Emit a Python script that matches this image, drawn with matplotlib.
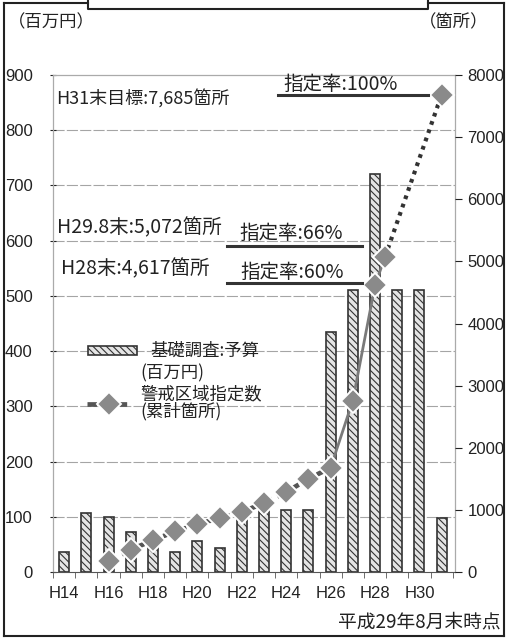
import matplotlib
matplotlib.use("Agg")
import matplotlib.pyplot as plt
from matplotlib.patches import Rectangle
from matplotlib.lines import Line2D

plt.rcParams['font.family'] = ['Noto Sans CJK JP', 'DejaVu Sans']
plt.rcParams['hatch.linewidth'] = 0.8

# ---- data ----
years = ["H14", "H15", "H16", "H17", "H18", "H19", "H20", "H21", "H22",
         "H23", "H24", "H25", "H26", "H27", "H28", "H29", "H30", "H31"]
budget = [37, 107, 100, 72, 45, 36, 57, 43, 105, 112, 113, 112, 434, 510, 720, 510, 510, 98]
tick_labels = ["H14", "H16", "H18", "H20", "H22", "H24", "H26", "H28", "H30"]

cum_x = [2, 3, 4, 5, 6, 7, 8, 9, 10, 11, 12, 13, 14, 14.45, 17]
cum_sites = [170, 360, 510, 654, 767, 868, 965, 1110, 1286, 1500, 1678, 2760, 4617, 5072, 7685]

W, H = 507, 638
fig = plt.figure(figsize=(W / 100, H / 100), dpi=100)
fig.patch.set_facecolor('white')

def fx(px):
    return px / W

def fy(py):
    return 1 - py / H

ax = fig.add_axes([fx(53), fy(572), fx(455) - fx(53), fy(75) - fy(572)])
ax2 = ax.twinx()

xs = list(range(len(years)))
ax.bar(xs, budget, width=0.45, facecolor='#e4e4e4', edgecolor='#333333',
       linewidth=1.2, hatch='\\\\\\\\\\', zorder=2)
ax.set_xlim(-0.5, 17.6)
ax.set_ylim(0, 900)
ax.set_yticks(range(0, 901, 100))
ax.set_xticks([years.index(t) for t in tick_labels])
ax.set_xticklabels(tick_labels)
ax.set_xticks([i - 0.5 for i in range(len(years) + 1)], minor=True)
ax.tick_params(axis='x', which='major', length=0, pad=10, labelsize=12, colors='#222222')
ax.tick_params(axis='x', which='minor', length=4, direction='out', color='#555555')
ax.tick_params(axis='y', length=5, direction='inout', pad=12, labelsize=12, colors='#222222')
for lab in ax.get_xticklabels() + ax.get_yticklabels():
    lab.set_family(['Liberation Sans', 'DejaVu Sans'])

for v in range(100, 900, 100):
    ax.axhline(v, color='#a5a5a5', lw=0.8, ls=(0, (10, 2)), zorder=1)

for s in ['left', 'right', 'top']:
    ax.spines[s].set_color('#aaaaaa')
    ax.spines[s].set_linewidth(0.9)
ax.spines['bottom'].set_color('#555555')

ax2.set_ylim(0, 8000)
ax2.set_yticks(range(0, 8001, 1000))
ax2.tick_params(axis='y', length=5, direction='out', pad=4, labelsize=12, colors='#222222')
for lab in ax2.get_yticklabels():
    lab.set_family(['Liberation Sans', 'DejaVu Sans'])
for s in ax2.spines.values():
    s.set_visible(False)

# line segments
ax2.plot(cum_x[:11], cum_sites[:11], color='#555555', lw=3.4, ls=(0, (2, 1.2)), zorder=3)
ax2.plot(cum_x[10:14], cum_sites[10:14], color='#7a7a7a', lw=2.0, zorder=3)
ax2.plot(cum_x[13:], cum_sites[13:], color='#333333', lw=3.0, ls=(0, (0.9, 1.2)), zorder=3)
ax2.plot(cum_x, cum_sites, ls='none', marker='D', markersize=12,
         markerfacecolor='#8a8a8a', markeredgecolor='white', markeredgewidth=1.4, zorder=4)

# annotations
tc = '#222222'
fig.text(fx(8), fy(22), "（百万円）", fontsize=12.5, color=tc, va='center', ha='left')
fig.text(fx(488), fy(22), "（箇所）", fontsize=12.5, color=tc, va='center', ha='right')

fig.text(fx(56), fy(99), "H31末目標:7,685箇所", fontsize=13, color=tc, va='center', ha='left')
fig.text(fx(283), fy(84), "指定率:100%", fontsize=14, color=tc, va='center', ha='left')
fig.add_artist(Line2D([fx(278), fx(428)], [fy(95), fy(95)], color='#333333', lw=2.2))

fig.text(fx(57), fy(228), "H29.8末:5,072箇所", fontsize=14, color=tc, va='center', ha='left')
fig.text(fx(239), fy(233), "指定率:66%", fontsize=14, color=tc, va='center', ha='left')
fig.add_artist(Line2D([fx(227), fx(362)], [fy(246), fy(246)], color='#333333', lw=2.2))

fig.text(fx(61), fy(269), "H28末:4,617箇所", fontsize=14, color=tc, va='center', ha='left')
fig.text(fx(240), fy(272), "指定率:60%", fontsize=14, color=tc, va='center', ha='left')
fig.add_artist(Line2D([fx(227), fx(362)], [fy(283), fy(283)], color='#333333', lw=2.2))

# legend
fig.add_artist(Rectangle((fx(88), fy(355)), fx(137) - fx(88), fy(346) - fy(355),
                         transform=fig.transFigure, facecolor='#e4e4e4', edgecolor='#333333',
                         lw=1.2, hatch='\\\\\\\\\\'))
fig.text(fx(150), fy(351), "基礎調査:予算", fontsize=12.5, color=tc, va='center', ha='left')
fig.text(fx(140), fy(373), "(百万円)", fontsize=12.5, color=tc, va='center', ha='left')
fig.text(fx(140), fy(394), "警戒区域指定数", fontsize=12.5, color=tc, va='center', ha='left')
fig.text(fx(140), fy(411), "(累計箇所)", fontsize=12.5, color=tc, va='center', ha='left')
fig.add_artist(Line2D([fx(87), fx(130)], [fy(404), fy(404)], color='#555555', lw=3.4,
                      ls=(0, (2, 1.2))))
fig.add_artist(Line2D([fx(109)], [fy(404)], ls='none', marker='D', markersize=12,
                      markerfacecolor='#8a8a8a', markeredgecolor='white', markeredgewidth=1.4))

fig.text(fx(501), fy(622), "平成29年8月末時点", fontsize=13.5, color=tc, va='center', ha='right')

# outer frame and top box
frame_c = '#222222'
fig.add_artist(Line2D([fx(4), fx(4)], [fy(3), fy(636)], color=frame_c, lw=1.5))
fig.add_artist(Line2D([fx(504), fx(504)], [fy(3), fy(636)], color=frame_c, lw=1.5))
fig.add_artist(Line2D([fx(4), fx(504)], [fy(636), fy(636)], color=frame_c, lw=1.5))
fig.add_artist(Line2D([fx(4), fx(88)], [fy(3), fy(3)], color=frame_c, lw=1.5))
fig.add_artist(Line2D([fx(428), fx(504)], [fy(3), fy(3)], color=frame_c, lw=1.5))
fig.add_artist(Line2D([fx(88), fx(88), fx(428), fx(428)], [fy(0), fy(9), fy(9), fy(0)],
                      color=frame_c, lw=1.5))

fig.savefig("out.png", dpi=100)
